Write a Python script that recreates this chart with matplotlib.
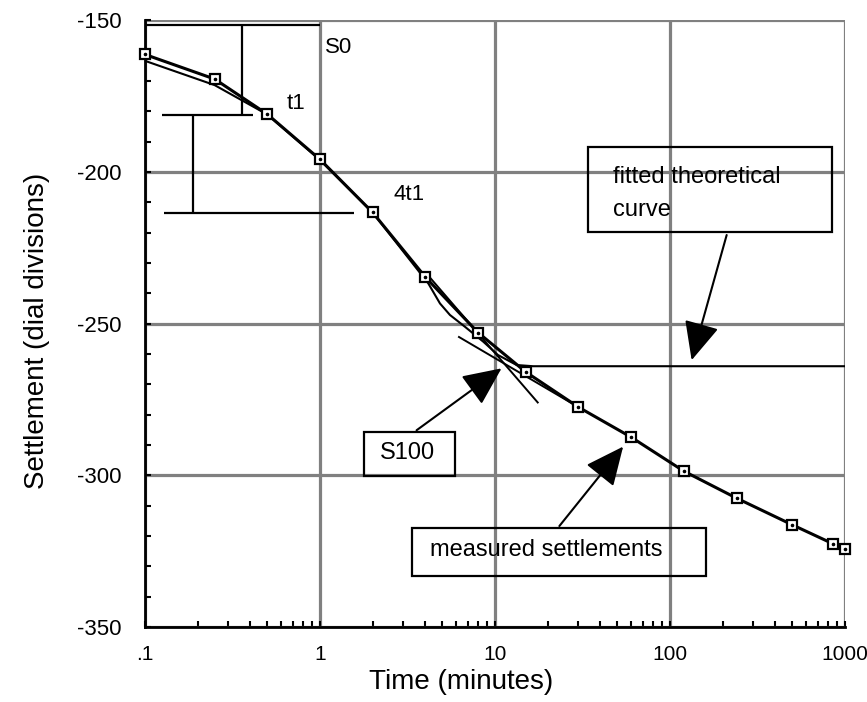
import matplotlib
matplotlib.use("Agg")
import matplotlib.pyplot as plt
from matplotlib.patches import Rectangle
from matplotlib.ticker import FixedLocator, FixedFormatter, LogLocator, MultipleLocator, NullFormatter

plt.rcParams["font.family"] = ["Liberation Sans", "DejaVu Sans"]
plt.rcParams["axes.unicode_minus"] = False

# measured dial readings
time_min = [0.1, 0.25, 0.5, 1, 2, 4, 8, 15, 30, 60, 120, 240, 500, 850, 1000]
settlement = [-161.2, -169.3, -180.9, -195.8, -213.3, -234.6, -252.9, -265.9,
              -277.5, -287.4, -298.6, -307.5, -316.3, -322.5, -324.2]

# fitted theoretical curve (levels off at S100)
theory_t = [0.1, 0.25, 0.5, 1, 2, 4.16, 4.85, 5.53, 6.74, 8.57, 10.4, 13.3, 16.5, 1000]
theory_s = [-163.3, -171.3, -181, -196, -213.3, -236.7, -243.3, -247.1, -251,
            -255.9, -260.3, -263.6, -264, -264]

# construction lines
s0_t, s0_s = [0.1, 1], [-151.5, -151.5]
v1_t, v1_s = [0.357, 0.357], [-151.5, -181]
t1_t, t1_s = [0.1246, 0.414], [-181, -181]
v2_t, v2_s = [0.189, 0.189], [-181, -213.6]
t4_t, t4_s = [0.129, 1.56], [-213.6, -213.6]
steep_t, steep_s = [4, 17.7], [-233, -276.2]
flat_t, flat_s = [6.16, 30], [-254.2, -277.5]

x_ticks = [0.1, 1, 10, 100, 1000]
x_labels = [".1", "1", "10", "100", "1000"]
y_ticks = [-350, -300, -250, -200, -150]

fig = plt.figure(figsize=(8.67, 7.02), dpi=100)
ax = fig.add_axes([0.1672, 0.1068, 0.8074, 0.864])
ax.set_xscale("log")
ax.set_xlim(0.1, 1000)
ax.set_ylim(-350, -150)

ax.set_axisbelow(True)
ax.grid(which="major", color="#808080", lw=2.3)
for side in ("top", "right"):
    ax.spines[side].set_visible(False)
for side in ("left", "bottom"):
    ax.spines[side].set_linewidth(2)
    ax.spines[side].set_zorder(3)

ax.xaxis.set_major_locator(FixedLocator(x_ticks))
ax.xaxis.set_major_formatter(FixedFormatter(x_labels))
ax.xaxis.set_minor_locator(LogLocator(base=10, subs=range(2, 10)))
ax.xaxis.set_minor_formatter(NullFormatter())
ax.yaxis.set_major_locator(FixedLocator(y_ticks))
ax.yaxis.set_minor_locator(MultipleLocator(10))
ax.tick_params(which="both", direction="in", width=1.5, length=4, color="black")
ax.tick_params(axis="x", pad=13, labelsize=15)
ax.tick_params(axis="y", pad=17, labelsize=16)

ax.set_xlabel("Time (minutes)", fontsize=20, va="top")
ax.xaxis.set_label_coords(0.451, -0.07)
ax.set_ylabel("Settlement (dial divisions)", fontsize=20)
ax.yaxis.set_label_coords(-0.136, 0.488)

lk = dict(color="black", solid_capstyle="butt", clip_on=False)
for tt, ss in [(s0_t, s0_s), (v1_t, v1_s), (t1_t, t1_s), (v2_t, v2_s), (t4_t, t4_s)]:
    ax.plot(tt, ss, lw=1.6, **lk)
ax.plot(steep_t, steep_s, lw=1.4, **lk)
ax.plot(flat_t, flat_s, lw=1.4, **lk)
ax.plot(theory_t, theory_s, lw=1.5, **lk)
ax.plot(time_min, settlement, lw=2.2, color="black", clip_on=False, zorder=4)
ax.plot(time_min, settlement, ls="none", marker="s", ms=7.5, mfc="white", mec="black",
        mew=1.6, clip_on=False, zorder=5)
ax.plot(time_min, settlement, ls="none", marker="o", ms=1.6, color="black",
        clip_on=False, zorder=6)

ax.text(1.07, -159, "S0", fontsize=16, va="center")
ax.text(0.646, -177.3, "t1", fontsize=16, va="center")
ax.text(2.62, -207.5, "4t1", fontsize=16, va="center")

boxes = [(0.633, 0.6514, 0.348, 0.1396), (0.3129, 0.2495, 0.13, 0.0725),
         (0.3819, 0.0841, 0.4195, 0.0787)]
for bx, by, bw, bh in boxes:
    ax.add_patch(Rectangle((bx, by), bw, bh, transform=ax.transAxes, fill=True,
                           facecolor="none", edgecolor="black", lw=1.6, zorder=7))
ax.text(0.6686, 0.7424, "fitted theoretical", transform=ax.transAxes, fontsize=17, va="center", zorder=8)
ax.text(0.6686, 0.6874, "curve", transform=ax.transAxes, fontsize=17, va="center", zorder=8)
ax.text(0.3747, 0.2864, "S100", transform=ax.transAxes, fontsize=17, ha="center", va="center", zorder=8)
ax.text(0.407, 0.127, "measured settlements", transform=ax.transAxes, fontsize=17, va="center", zorder=8)

arrow = dict(arrowstyle="-|>,head_length=1.2,head_width=0.55", color="black", lw=1.5,
             mutation_scale=20, shrinkA=0, shrinkB=0)
ax.annotate("", xy=(133, -262), xycoords="data", xytext=(0.831, 0.6463),
            textcoords="axes fraction", arrowprops=arrow, zorder=8)
ax.annotate("", xy=(10.9, -264.7), xycoords="data", xytext=(0.388, 0.3244),
            textcoords="axes fraction", arrowprops=arrow, zorder=8)
ax.annotate("", xy=(54, -290.5), xycoords="data", xytext=(0.592, 0.1665),
            textcoords="axes fraction", arrowprops=arrow, zorder=8)

fig.savefig("out.png", dpi=100)
